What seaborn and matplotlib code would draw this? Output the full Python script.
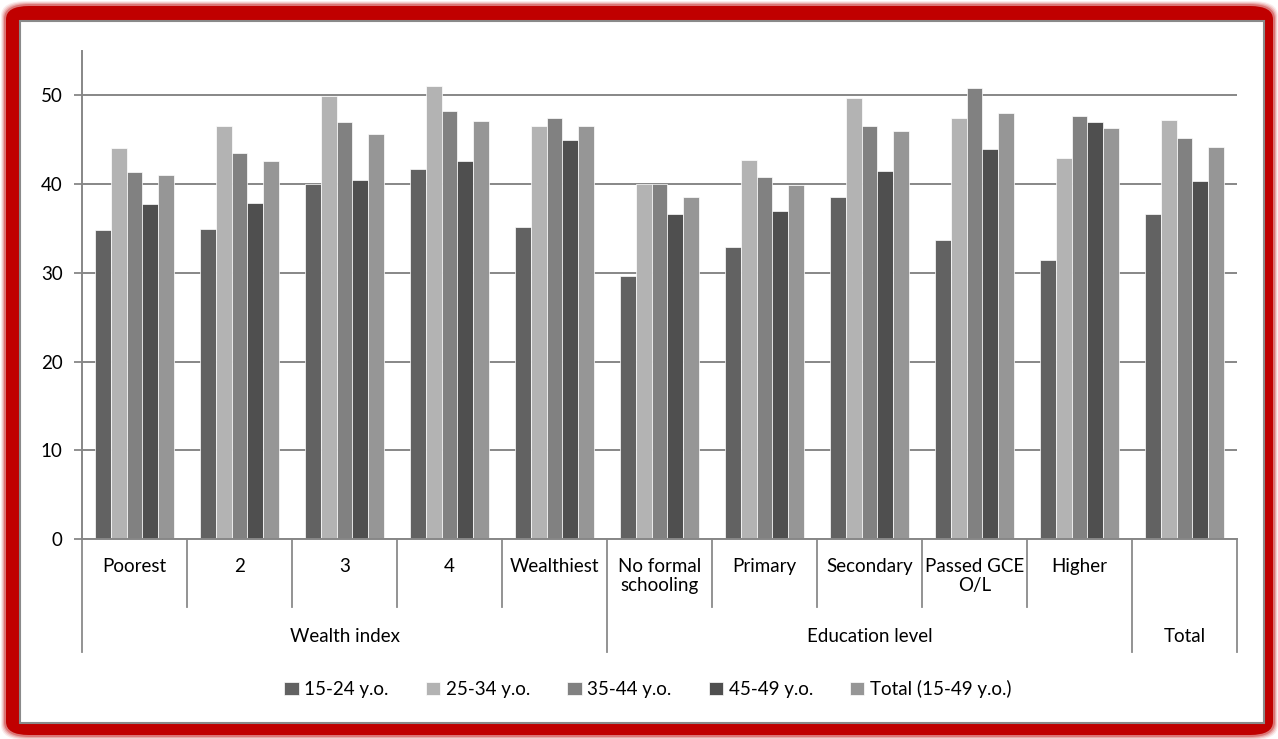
import pandas as pd
import seaborn as sns
import matplotlib.pyplot as plt
from matplotlib.patches import FancyBboxPatch, Rectangle
from matplotlib.transforms import blended_transform_factory

# Data
categories = ["Poorest", "2", "3", "4", "Wealthiest", "No formal\nschooling",
              "Primary", "Secondary", "Passed GCE\nO/L", "Higher", "Total"]
groups = ["Wealth index", "Education level", "Total"]
group_sizes = [5, 5, 1]
series = ["15-24 y.o.", "25-34 y.o.", "35-44 y.o.", "45-49 y.o.", "Total (15-49 y.o.)"]

age_15_24 = [34.8, 34.9, 40.0, 41.7, 35.2, 29.6, 32.9, 38.5, 33.7, 31.4, 36.6]
age_25_34 = [44.1, 46.6, 49.9, 51.1, 46.5, 40.0, 42.7, 49.7, 47.4, 42.9, 47.2]
age_35_44 = [41.4, 43.5, 47.0, 48.2, 47.5, 40.0, 40.8, 46.5, 50.8, 47.7, 45.2]
age_45_49 = [37.7, 37.9, 40.5, 42.6, 45.0, 36.6, 37.0, 41.5, 43.9, 47.0, 40.3]
age_total = [41.0, 42.6, 45.7, 47.1, 46.6, 38.6, 39.9, 46.0, 48.0, 46.3, 44.2]

colors = ["#626262", "#b3b3b3", "#818181", "#4f4f4f", "#969696"]

df = pd.DataFrame({"category": categories * 5,
                   "series": sum([[s] * len(categories) for s in series], []),
                   "value": age_15_24 + age_25_34 + age_35_44 + age_45_49 + age_total})

W, H = 1278, 739
plt.rcParams["font.family"] = ["Lato", "DejaVu Sans"]
fig = plt.figure(figsize=(W / 100, H / 100), dpi=100)


def fbox(x0, y0, x1, y1):
    # pixel box (top-left origin) -> figure fractions
    return x0 / W, 1 - y1 / H, (x1 - x0) / W, (y1 - y0) / H


# red frame with soft shadow
for i, a in enumerate([0.08, 0.12, 0.18, 0.3]):
    g = 4 - i
    x, y, w, h = fbox(5 - g, 5 - g, 1274 + g, 736 + g)
    fig.patches.append(FancyBboxPatch((x, y), w, h, boxstyle="round,pad=0,rounding_size=0.02",
                                      transform=fig.transFigure, fc="#c00000", ec="none",
                                      alpha=a, zorder=0))
x, y, w, h = fbox(6, 6, 1273, 735)
fig.patches.append(FancyBboxPatch((x, y), w, h, boxstyle="round,pad=0,rounding_size=0.018",
                                  transform=fig.transFigure, fc="#c00000", ec="none", zorder=0))
x, y, w, h = fbox(20, 21, 1264, 723)
fig.patches.append(Rectangle((x, y), w, h, transform=fig.transFigure,
                             fc="white", ec="#8a8a8a", lw=1.5, zorder=0))

ax = fig.add_axes(fbox(82, 51, 1237, 539))
ax.set_zorder(2)
ax.patch.set_alpha(0)

sns.barplot(data=df, x="category", y="value", hue="series", order=categories,
            hue_order=series, palette=colors, saturation=1, width=0.76,
            edgecolor="white", linewidth=0.5, ax=ax)

ax.set_ylim(0, 55)
ax.set_xlim(-0.5, len(categories) - 0.5)
ax.set_yticks(range(0, 51, 10))
ax.yaxis.grid(True, color="#878787", lw=1.4)
ax.set_axisbelow(True)
for s in ["top", "right"]:
    ax.spines[s].set_visible(False)
for s in ["left", "bottom"]:
    ax.spines[s].set_color("#878787")
    ax.spines[s].set_linewidth(1.4)
ax.tick_params(axis="y", length=6, width=1.3, color="#878787", labelsize=13.5, pad=8)
ax.tick_params(axis="x", bottom=False, labelbottom=False)
ax.set_xlabel("")
ax.set_ylabel("")

# two-level category axis
tr = blended_transform_factory(ax.transData, fig.transFigure)
bounds = [-0.5]
for n in group_sizes:
    bounds.append(bounds[-1] + n)
single = [i for i, n in zip(bounds[:-1], group_sizes) if n == 1]
for i, c in enumerate(categories):
    if i - 0.5 in single:
        continue  # one-member group: only the group label is shown
    ax.text(i, 1 - 558 / H, c, transform=tr, ha="center", va="top",
            fontsize=13.5, linespacing=1.15, clip_on=False)
for b in [i - 0.5 for i in range(len(categories) + 1)]:
    bottom = 652 if b in bounds else 607
    ax.plot([b, b], [1 - 539 / H, 1 - bottom / H], transform=tr, color="#8a8a8a",
            lw=1.3, clip_on=False)
for g, a, b in zip(groups, bounds[:-1], bounds[1:]):
    ax.text((a + b) / 2, 1 - 636 / H, g, transform=tr, ha="center", va="center",
            fontsize=13.5, clip_on=False)

handles, labels = ax.get_legend_handles_labels()
ax.legend_.remove()
fig.legend(handles, labels, loc="center", bbox_to_anchor=(648 / W, 1 - 689 / H), ncol=5,
           frameon=False, handlelength=0.75, handleheight=0.75, handletextpad=0.3,
           columnspacing=2.0, fontsize=13.5)

plt.savefig("out.png", dpi=100)
